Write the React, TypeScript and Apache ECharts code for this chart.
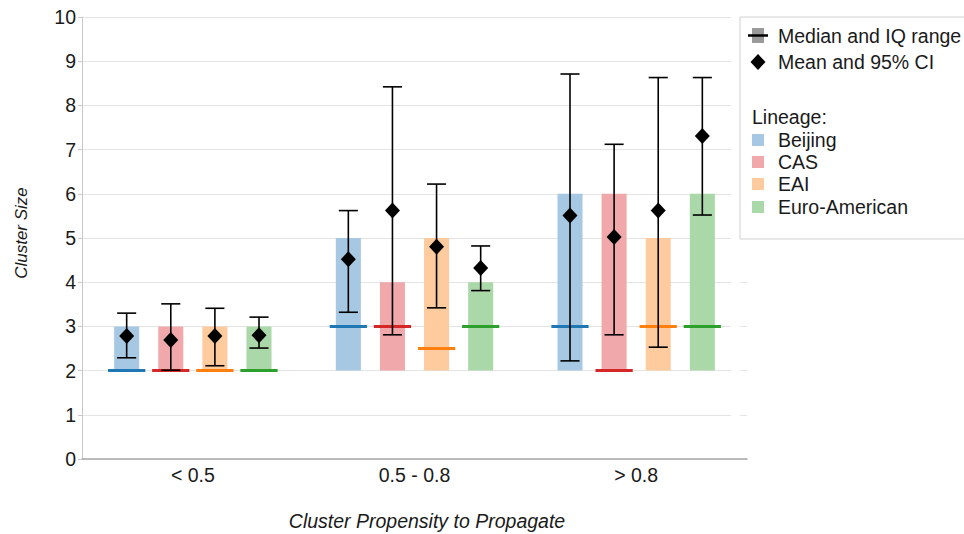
import React, { useEffect, useRef } from 'react';
import * as echarts from 'echarts';

const categories = ['< 0.5', '0.5 - 0.8', '> 0.8'];
const lineages = ['Beijing', 'CAS', 'EAI', 'Euro-American'];
const yTicks = [0, 1, 2, 3, 4, 5, 6, 7, 8, 9, 10];

// rows: lineage (Beijing, CAS, EAI, Euro-American); columns: category
const q1 = [
  [2, 2, 2],
  [2, 2, 2],
  [2, 2, 2],
  [2, 2, 2],
];
const q3 = [
  [3, 5, 6],
  [3, 4, 6],
  [3, 5, 5],
  [3, 4, 6],
];
const median = [
  [2, 3, 3],
  [2, 3, 2],
  [2, 2.5, 3],
  [2, 3, 3],
];
const mean = [
  [2.78, 4.52, 5.51],
  [2.69, 5.62, 5.02],
  [2.78, 4.8, 5.62],
  [2.8, 4.32, 7.31],
];
const ciLow = [
  [2.29, 3.32, 2.22],
  [2.01, 2.81, 2.81],
  [2.11, 3.42, 2.53],
  [2.51, 3.81, 5.52],
];
const ciHigh = [
  [3.3, 5.62, 8.71],
  [3.51, 8.42, 7.12],
  [3.41, 6.22, 8.63],
  [3.21, 4.82, 8.63],
];

const barColors = ['#a7c8e2', '#f0a8ab', '#fdcb9e', '#abd8a8'];
const medianColors = ['#1f77b4', '#d62728', '#ff7f0e', '#2ca02c'];

const FONT = '"Liberation Sans", Arial, sans-serif';

export default function App() {
  const ref = useRef<HTMLDivElement>(null);

  useEffect(() => {
    if (!ref.current) return;
    const chart = echarts.init(ref.current, null, { renderer: 'svg' });

    const series = lineages.map((name, li) => ({
      type: 'custom',
      name,
      encode: { x: 0, y: [1, 2, 3, 4, 5, 6] },
      data: categories.map((_, c) => [
        c,
        q1[li][c],
        q3[li][c],
        median[li][c],
        mean[li][c],
        ciLow[li][c],
        ciHigh[li][c],
      ]),
      renderItem: (params: any, api: any) => {
        const ci = api.value(0);
        const band = api.size([1, 0])[0];
        const step = band * 0.199;
        const off = (li - 1.5) * step;
        const barW = band * 0.113;
        const medW = band * 0.168;
        const capW = band * 0.086;
        const x = api.coord([ci, 0])[0] + off;
        const y = (v: number) => api.coord([ci, v])[1];
        const yq1 = y(api.value(1));
        const yq3 = y(api.value(2));
        const ymed = y(api.value(3));
        const ymean = y(api.value(4));
        const ylo = y(api.value(5));
        const yhi = y(api.value(6));
        const d = 7.5;
        return {
          type: 'group',
          children: [
            {
              type: 'rect',
              shape: { x: x - barW / 2, y: yq3, width: barW, height: yq1 - yq3 },
              style: { fill: barColors[li] },
            },
            {
              type: 'line',
              shape: { x1: x - medW / 2, y1: ymed, x2: x + medW / 2, y2: ymed },
              style: { stroke: medianColors[li], lineWidth: 3 },
            },
            {
              type: 'line',
              shape: { x1: x, y1: ylo, x2: x, y2: yhi },
              style: { stroke: '#000', lineWidth: 1.6 },
            },
            {
              type: 'line',
              shape: { x1: x - capW / 2, y1: ylo, x2: x + capW / 2, y2: ylo },
              style: { stroke: '#000', lineWidth: 1.6 },
            },
            {
              type: 'line',
              shape: { x1: x - capW / 2, y1: yhi, x2: x + capW / 2, y2: yhi },
              style: { stroke: '#000', lineWidth: 1.6 },
            },
            {
              type: 'polygon',
              shape: {
                points: [
                  [x, ymean - d - 0.5],
                  [x + d, ymean],
                  [x, ymean + d + 0.5],
                  [x - d, ymean],
                ],
              },
              style: { fill: '#000' },
            },
          ],
        };
      },
    }));

    const legendX = 778;
    const legendRows = [140, 162, 184, 207];
    const textStyle = (text: string, x: number, y: number) => ({
      type: 'text',
      x,
      y,
      style: {
        text,
        fill: '#1a1a1a',
        font: `19.5px ${FONT}`,
        textVerticalAlign: 'middle',
        verticalAlign: 'middle',
      },
    });

    const graphic: any[] = [
      {
        type: 'rect',
        shape: { x: 731, y: 14, width: 9, height: 440 },
        style: { fill: '#fff' },
        z: 9,
      },
      {
        type: 'rect',
        shape: { x: 740, y: 17, width: 240, height: 222 },
        style: { fill: '#fff', stroke: '#d0d0d0', lineWidth: 1 },
        z: 10,
      },
      {
        type: 'rect',
        shape: { x: 752, y: 28, width: 12, height: 15 },
        style: { fill: '#9a9a9a' },
        z: 11,
      },
      {
        type: 'line',
        shape: { x1: 748, y1: 35.5, x2: 768, y2: 35.5 },
        style: { stroke: '#000', lineWidth: 2.5 },
        z: 12,
      },
      {
        type: 'polygon',
        shape: { points: [[758, 54], [765.5, 62], [758, 70], [750.5, 62]] },
        style: { fill: '#000' },
        z: 11,
      },
      { ...textStyle('Median and IQ range', legendX, 36), z: 11 },
      { ...textStyle('Mean and 95% CI', legendX, 62), z: 11 },
      { ...textStyle('Lineage:', 752, 117), z: 11 },
      ...lineages.map((name, i) => ({
        type: 'rect',
        shape: { x: 752, y: legendRows[i] - 6, width: 12, height: 12 },
        style: { fill: barColors[i] },
        z: 11,
      })),
      ...lineages.map((name, i) => ({ ...textStyle(name, legendX, legendRows[i]), z: 11 })),
      {
        type: 'text',
        x: 427,
        y: 521,
        style: {
          text: 'Cluster Propensity to Propagate',
          fill: '#1a1a1a',
          font: `italic 19.5px ${FONT}`,
          textAlign: 'center',
          textVerticalAlign: 'middle',
          align: 'center',
          verticalAlign: 'middle',
        },
        z: 11,
      },
      {
        type: 'text',
        x: 21,
        y: 233,
        rotation: Math.PI / 2,
        style: {
          text: 'Cluster Size',
          fill: '#1a1a1a',
          font: `italic 17px ${FONT}`,
          textAlign: 'center',
          textVerticalAlign: 'middle',
          align: 'center',
          verticalAlign: 'middle',
        },
        z: 11,
      },
    ];

    chart.setOption({
      animation: false,
      backgroundColor: '#fff',
      grid: { left: 82, right: 217, top: 17, bottom: 75, containLabel: false },
      xAxis: {
        type: 'category',
        data: categories,
        boundaryGap: true,
        axisTick: { show: false },
        axisLine: { show: true, lineStyle: { color: '#a8a8a8', width: 1.5 } },
        axisLabel: { fontSize: 19.5, color: '#1a1a1a', fontFamily: FONT, margin: 6 },
        splitLine: { show: false },
      },
      yAxis: {
        type: 'value',
        min: yTicks[0],
        max: yTicks[yTicks.length - 1],
        interval: 1,
        axisLine: { show: true, lineStyle: { color: '#c8c8c8' } },
        axisTick: { show: true, length: 4, lineStyle: { color: '#c8c8c8' } },
        axisLabel: { fontSize: 19.5, color: '#1a1a1a', fontFamily: FONT, margin: 6 },
        splitLine: { show: true, lineStyle: { color: '#e4e4e4' } },
      },
      series,
      graphic,
    });

    return () => chart.dispose();
  }, []);

  return <div ref={ref} style={{ width: 964, height: 534, position: 'absolute', left: 0, top: 0 }} />;
}
